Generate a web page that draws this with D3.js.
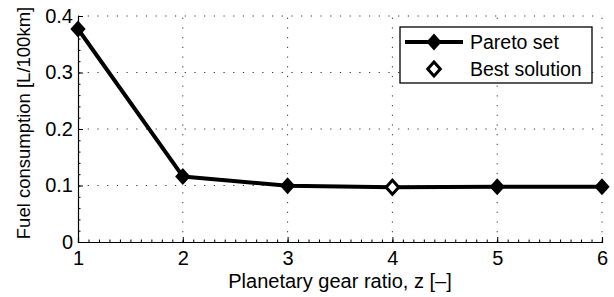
<!DOCTYPE html>
<html>
<head>
<meta charset="utf-8">
<script src="https://cdn.jsdelivr.net/npm/d3@7"></script>
<style>
  body { margin: 0; background: #fff; }
  svg { font-family: "Liberation Sans", Arial, sans-serif; }
</style>
</head>
<body>
<svg width="614" height="297"></svg>
<script>
// data
const ratios = [1, 2, 3, 4, 5, 6];
const fuel = [0.377, 0.116, 0.0995, 0.097, 0.0978, 0.0978];
const bestIndex = 3;
const xTicks = [1, 2, 3, 4, 5, 6];
const yTicks = [0, 0.1, 0.2, 0.3, 0.4];
const legendLabels = ["Pareto set", "Best solution"];

const svg = d3.select("svg");
const mLeft = 78, mRight = 602, mTop = 16, mBottom = 242;

const x = d3.scaleLinear().domain([1, 6]).range([mLeft, mRight]);
const y = d3.scaleLinear().domain([0, 0.4]).range([mBottom, mTop]);

// dotted grid
const grid = svg.append("g").attr("stroke", "#333").attr("stroke-width", 1)
  .attr("stroke-dasharray", "1.2,8.5");
grid.selectAll(".gx").data(xTicks.slice(1)).enter().append("line")
  .attr("x1", d => x(d)).attr("x2", d => x(d))
  .attr("y1", mBottom).attr("y2", mTop);
grid.selectAll(".gy").data(yTicks.slice(1)).enter().append("line")
  .attr("x1", mLeft).attr("x2", mRight)
  .attr("y1", d => y(d)).attr("y2", d => y(d));

// axes
const xAxis = svg.append("g").attr("transform", `translate(0,${mBottom})`)
  .call(d3.axisBottom(x).tickValues(xTicks).tickSize(-5).tickPadding(9).tickFormat(d3.format("d")));
const yAxis = svg.append("g").attr("transform", `translate(${mLeft},0)`)
  .call(d3.axisLeft(y).tickValues(yTicks).tickSize(-5).tickPadding(5).tickFormat(d => d === 0 ? "0" : d3.format(".1f")(d)));

// minor ticks
svg.append("g").attr("transform", `translate(0,${mBottom})`)
  .call(d3.axisBottom(x).ticks(50).tickSize(-2.5).tickFormat(""))
  .call(g => g.select(".domain").remove());
svg.append("g").attr("transform", `translate(${mLeft},0)`)
  .call(d3.axisLeft(y).ticks(20).tickSize(-2.5).tickFormat(""))
  .call(g => g.select(".domain").remove());

[xAxis, yAxis].forEach(a => {
  a.select(".domain").attr("stroke", "#000").attr("stroke-width", 1.2);
  a.selectAll("text").attr("font-size", 20).attr("fill", "#000")
    .attr("font-family", "Liberation Sans, Arial, sans-serif");
});
svg.selectAll(".tick line").attr("stroke", "#000");

// labels
svg.append("text").attr("x", 340).attr("y", 288)
  .attr("text-anchor", "middle").attr("font-size", 20)
  .text("Planetary gear ratio, z [\u2013]");
svg.append("text").attr("transform", `translate(30,${(mTop + mBottom) / 2 - 6}) rotate(-90)`)
  .attr("text-anchor", "middle").attr("font-size", 18.5)
  .text("Fuel consumption [L/100km]");

// series
const pts = ratios.map((r, i) => ({ r, v: fuel[i] }));
svg.append("path").datum(pts)
  .attr("fill", "none").attr("stroke", "#000").attr("stroke-width", 4)
  .attr("stroke-linejoin", "round")
  .attr("d", d3.line().x(d => x(d.r)).y(d => y(d.v)));

const diamond = (cx, cy, h) => `M${cx},${cy - h}L${cx + h * 0.9},${cy}L${cx},${cy + h}L${cx - h * 0.9},${cy}Z`;
svg.selectAll(".pt").data(pts).enter().append("path")
  .attr("d", d => diamond(x(d.r), y(d.v), 8.5))
  .attr("fill", "#000");

const best = pts[bestIndex];
svg.append("path").attr("d", diamond(x(best.r), y(best.v), 7))
  .attr("fill", "#fff").attr("stroke", "#000").attr("stroke-width", 3);

// legend
const lg = svg.append("g");
lg.append("rect").attr("x", 400).attr("y", 27).attr("width", 192).attr("height", 56)
  .attr("fill", "#fff").attr("stroke", "#000").attr("stroke-width", 1.3);
lg.append("line").attr("x1", 405).attr("x2", 463).attr("y1", 42).attr("y2", 42)
  .attr("stroke", "#000").attr("stroke-width", 4);
lg.append("path").attr("d", diamond(434, 42, 8.5)).attr("fill", "#000");
lg.append("path").attr("d", diamond(434, 69, 7)).attr("fill", "#fff")
  .attr("stroke", "#000").attr("stroke-width", 3);
lg.selectAll(".lt").data(legendLabels).enter().append("text")
  .attr("x", 470).attr("y", (d, i) => 49 + i * 27)
  .attr("font-size", 19.5).text(d => d);
</script>
</body>
</html>
